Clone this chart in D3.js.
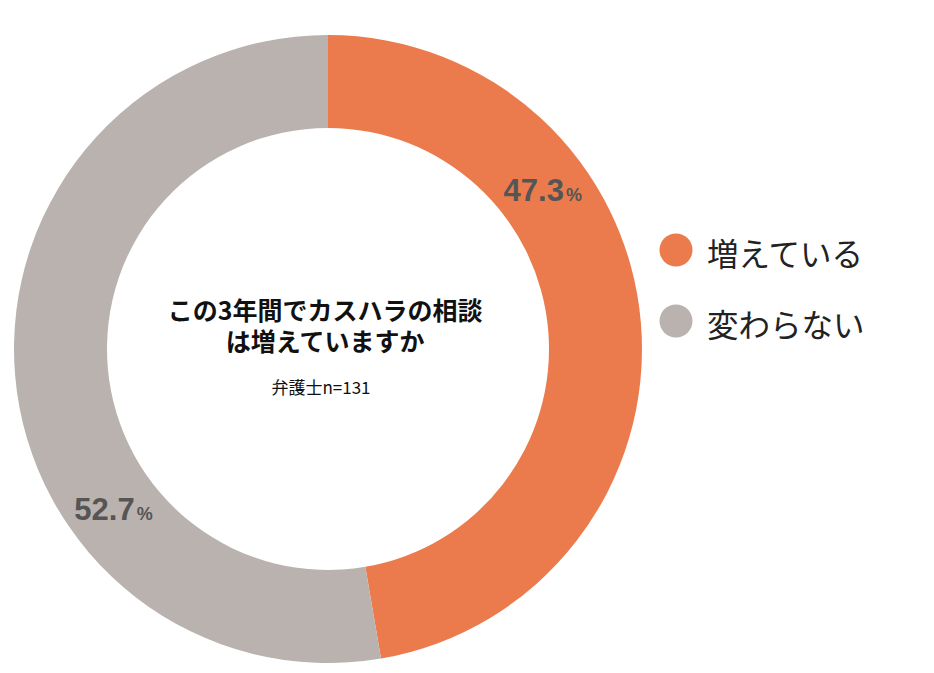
<!DOCTYPE html>
<html><head><meta charset="utf-8">
<script src="https://cdn.jsdelivr.net/npm/d3@7"></script>
<style>
html,body{margin:0;padding:0;background:#fff;}
svg{display:block;}
</style></head>
<body>
<svg id="chart" width="934" height="673"></svg>
<script>
const categories = ["増えている", "変わらない"];
const values = [47.3, 52.7];
const colors = ["#EB7B4C", "#B9B2AF"];
const titleLines = ["この3年間でカスハラの相談", "は増えていますか"];
const subtitle = "弁護士n=131";

const W = 934, H = 673;
const cx = 328, cy = 349, outerR = 314, innerR = 221;
const labelAngles = [53.4, 233.3]; // degrees, clockwise from top
const jp = "'Noto Sans CJK JP','Noto Sans',sans-serif";
const num = "'Liberation Sans',Arial,sans-serif";

const svg = d3.select("#chart");
const g = svg.append("g").attr("transform", `translate(${cx},${cy})`);

const pie = d3.pie().sort(null).value(d => d.value);
const arcs = pie(categories.map((c, i) => ({ cat: c, value: values[i], color: colors[i] })));
const arc = d3.arc().innerRadius(innerR).outerRadius(outerR);

g.selectAll("path").data(arcs).enter().append("path")
  .attr("d", arc).attr("fill", d => d.data.color);

const labelR = (innerR + outerR) / 2;
const lab = g.selectAll("text.val").data(arcs).enter().append("text")
  .attr("class", "val")
  .attr("text-anchor", "middle")
  .attr("x", (d, i) => labelR * Math.sin(labelAngles[i] * Math.PI / 180))
  .attr("y", (d, i) => -labelR * Math.cos(labelAngles[i] * Math.PI / 180) + 11)
  .attr("fill", "#555555")
  .style("font-family", num).style("font-weight", "bold");
lab.append("tspan").style("font-size", "31px").text(d => d.data.value.toFixed(1));
lab.append("tspan").style("font-size", "18px").attr("dx", 2).text("%");

// center text (one text element, two lines)
const title = g.append("text")
  .attr("text-anchor", "middle")
  .attr("fill", "#111")
  .style("font-family", jp).style("font-weight", "bold").style("font-size", "25px");
title.selectAll("tspan").data(titleLines).enter().append("tspan")
  .attr("x", -3)
  .attr("y", (d, i) => -29 + i * 30.5)
  .text(d => d);

g.append("text")
  .attr("text-anchor", "middle")
  .attr("x", -7).attr("y", 45)
  .attr("fill", "#111")
  .style("font-family", jp).style("font-size", "17px")
  .text(subtitle);

// legend
const leg = svg.append("g").attr("transform", "translate(676,250)");
const items = leg.selectAll("g").data(categories).enter().append("g")
  .attr("transform", (d, i) => `translate(0,${i * 71})`);
items.append("circle").attr("r", 16.5).attr("fill", (d, i) => colors[i]);
items.append("text")
  .attr("x", 31).attr("y", 2)
  .attr("dominant-baseline", "central")
  .attr("fill", "#222")
  .style("font-family", jp).style("font-size", "31.5px")
  .text(d => d);
</script>
</body></html>
